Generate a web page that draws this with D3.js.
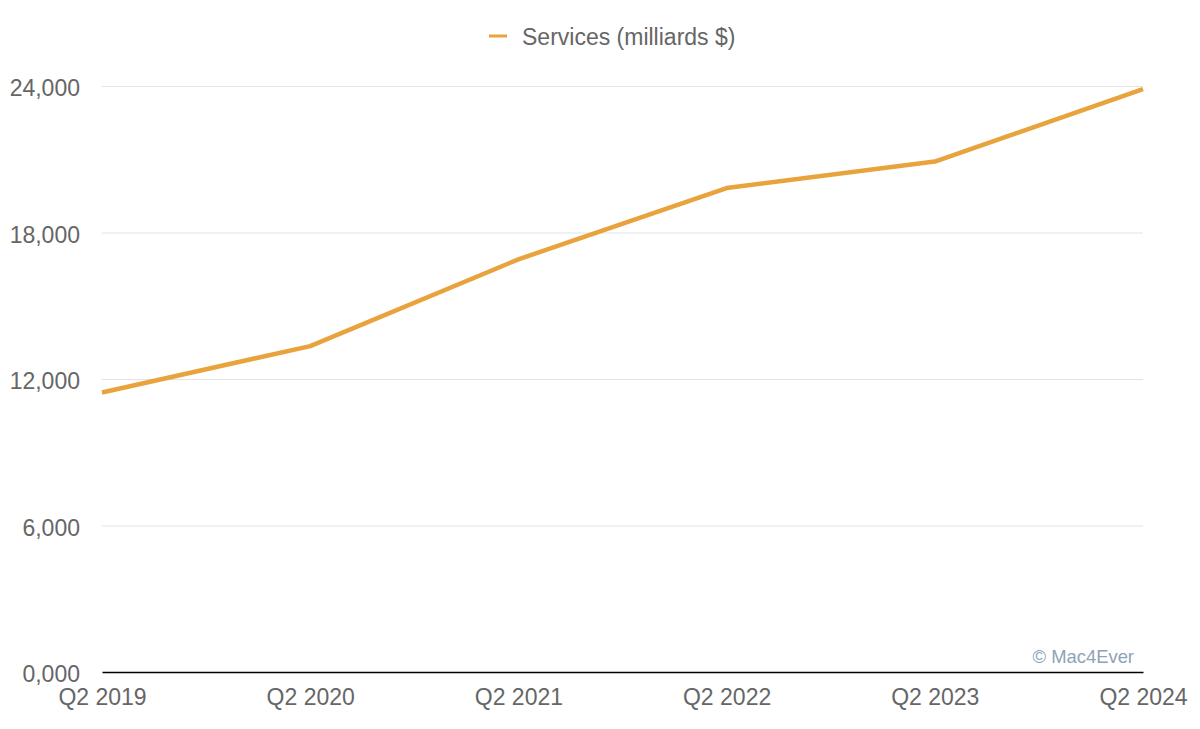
<!DOCTYPE html>
<html>
<head>
<meta charset="utf-8">
<script src="https://cdn.jsdelivr.net/npm/d3@7"></script>
<style>
  html, body { margin: 0; padding: 0; background: #fff; }
  svg { display: block; font-family: "Helvetica Neue", Helvetica, "Liberation Sans", Arial, sans-serif; }
</style>
</head>
<body>
<svg id="chart" width="1200" height="729"></svg>
<script>
const categories = ["Q2 2019", "Q2 2020", "Q2 2021", "Q2 2022", "Q2 2023", "Q2 2024"];
const services = [11450, 13348, 16901, 19821, 20907, 23867];
const yTicks = [0, 6000, 12000, 18000, 24000];
const yTickLabels = ["0,000", "6,000", "12,000", "18,000", "24,000"];
const seriesName = "Services (milliards $)";
const credit = "© Mac4Ever";

const svg = d3.select("#chart");
const W = 1200, H = 729;
const margin = { left: 102, right: 57, top: 86, bottom: 57 };
const lineColor = "#e8a33d";
const textColor = "#666666";
const fontFam = "\"Helvetica Neue\", Helvetica, \"Liberation Sans\", Arial, sans-serif";

const x = d3.scalePoint().domain(categories).range([margin.left, W - margin.right]);
const y = d3.scaleLinear().domain([0, 24000]).range([H - margin.bottom, margin.top]);

// gridlines
const grid = svg.append("g")
  .attr("transform", `translate(${margin.left},0)`)
  .call(d3.axisLeft(y).tickValues(yTicks.filter(d => d > 0)).tickSize(-(W - margin.right - margin.left)).tickFormat(""));
grid.select(".domain").remove();
grid.selectAll("line").attr("stroke", "#e3e3e3").attr("stroke-width", 1);

// y labels
const yAxis = svg.append("g")
  .attr("transform", `translate(${margin.left},0)`)
  .call(d3.axisLeft(y).tickValues(yTicks).tickSize(0).tickPadding(22)
    .tickFormat((d, i) => yTickLabels[i]));
yAxis.select(".domain").remove();
yAxis.selectAll("text").attr("fill", textColor).attr("font-size", 23)
  .attr("font-family", fontFam).attr("dy", "0.42em");

// x axis
const xAxis = svg.append("g")
  .attr("transform", `translate(0,${y(0)})`)
  .call(d3.axisBottom(x).tickSize(0).tickPadding(17));
xAxis.select(".domain").attr("stroke", "#000").attr("stroke-width", 1.6);
xAxis.selectAll("text").attr("fill", textColor).attr("font-size", 23)
  .attr("font-family", fontFam);

// line
const line = d3.line().x((d, i) => x(categories[i])).y(d => y(d));
svg.append("path")
  .datum(services)
  .attr("fill", "none")
  .attr("stroke", lineColor)
  .attr("stroke-width", 4.5)
  .attr("stroke-linejoin", "round")
  .attr("d", line);

// legend
const lg = svg.append("g");
lg.append("line").attr("x1", 489).attr("x2", 507).attr("y1", 36).attr("y2", 36)
  .attr("stroke", lineColor).attr("stroke-width", 3);
lg.append("text").attr("x", 522).attr("y", 45).attr("font-size", 23).attr("fill", textColor)
  .text(seriesName);

// credit
svg.append("text").attr("x", 1134).attr("y", 663).attr("text-anchor", "end")
  .attr("font-size", 18.4).attr("fill", "#8ea3b8").text(credit);
</script>
</body>
</html>
